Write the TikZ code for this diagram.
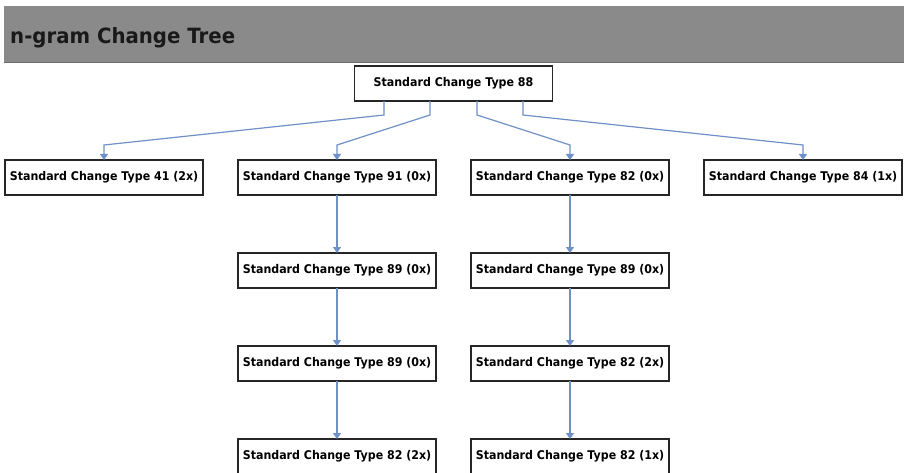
\documentclass[tikz,border=0pt]{standalone}
\usepackage{fontspec}
\setmainfont{DejaVu Sans}
\newfontfamily\boxfont{DejaVu Sans}[FakeStretch=0.92]
\newfontfamily\titlefont{DejaVu Sans}[FakeStretch=0.94]
\usetikzlibrary{positioning,arrows.meta}
\definecolor{headgray}{HTML}{8A8A8A}
\definecolor{headline}{HTML}{6C6C6C}
\definecolor{linkblue}{HTML}{7090C8}
\tikzset{
  change/.style={draw=black!85, line width=1.2pt, fill=white,
    minimum width=198pt, minimum height=35pt, inner sep=0pt, outer sep=0pt,
    font=\boxfont\bfseries\fontsize{12}{14}\selectfont},
  link/.style={draw=linkblue, line width=1.2pt,
    -{Triangle[width=8pt,length=6pt]}},
}
\begin{document}
\begin{tikzpicture}[x=1pt, y=1pt, node distance=58pt]
            \clip (0,0) rectangle (904,-473);
            \fill[white] (0,0) rectangle (904,-473);

            % Header bar
            \fill[headgray] (4,-6) rectangle (904,-62);
            \draw[headline, line width=1pt] (4,-62.5) -- (904,-62.5);
            \node[anchor=base west, inner sep=0pt, text=black!90,
              font=\titlefont\bfseries\fontsize{21}{24}\selectfont] (title) at (10,-44) {n-gram Change Tree};

            % Define nodes
            \node[change] (root) at (453.5,-83.5) {Standard Change Type 88};

            \node[change] (t41) at (104,-177.5) {Standard Change Type 41 (2x)};
            \node[change, right=35pt of t41] (t91) {Standard Change Type 91 (0x)};
            \node[change, right=35pt of t91] (t82) {Standard Change Type 82 (0x)};
            \node[change, right=35pt of t82] (t84) {Standard Change Type 84 (1x)};

            \node[change, below=of t91] (t91a) {Standard Change Type 89 (0x)};
            \node[change, below=of t91a] (t91b) {Standard Change Type 89 (0x)};
            \node[change, below=of t91b] (t91c) {Standard Change Type 82 (2x)};

            \node[change, below=of t82] (t82a) {Standard Change Type 89 (0x)};
            \node[change, below=of t82a] (t82b) {Standard Change Type 82 (2x)};
            \node[change, below=of t82b] (t82c) {Standard Change Type 82 (1x)};

            % Connect the nodes
            \foreach \dx/\child in {-69.5/t41, -23.5/t91, 23.5/t82, 69.5/t84}
              \draw[link] ([xshift=\dx pt]root.south) -- ++(0,-14)
                -- ([yshift=15pt]\child.north) -- (\child.north);

            \draw[link] (t91) -- (t91a);
            \draw[link] (t91a) -- (t91b);
            \draw[link] (t91b) -- (t91c);
            \draw[link] (t82) -- (t82a);
            \draw[link] (t82a) -- (t82b);
            \draw[link] (t82b) -- (t82c);
\end{tikzpicture}
\end{document}
